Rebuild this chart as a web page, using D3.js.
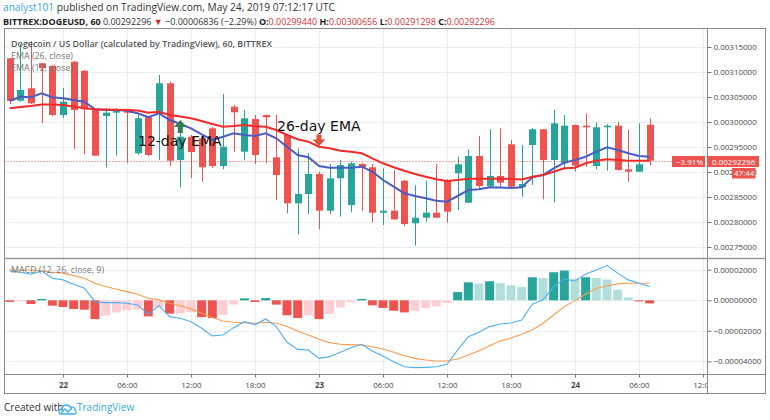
<!DOCTYPE html>
<html><head><meta charset="utf-8">
<script src="https://cdn.jsdelivr.net/npm/d3@7/dist/d3.min.js"></script>
<style>
body{margin:0;background:#fff;}
svg{display:block;font-family:"Open Sans","Noto Sans",sans-serif;}
</style></head><body>
<svg id="c" width="770" height="420"></svg>
<script>
// ---------- DATA ----------
const firstCandle = "2019-05-21T19:00:00Z";   // hourly candles
const opens = [0.0031274,0.0030426,0.0030674,0.0031174,0.003112,0.003014,0.0031206,0.0031026,0.003026,0.003012,
0.0030186,0.0030254,0.0029374,0.0030094,0.003016,0.0030774,0.002924,0.0029706,0.0029674,0.0029874,
0.002912,0.0030306,0.0029406,0.003006,0.003014,0.0029294,0.002974,0.0028374,0.002856,0.002896,
0.0028226,0.0028874,0.002834,0.002916,0.0029094,0.0028186,0.0028226,0.0028826,0.0027974,0.0028086,
0.0028186,0.002884,0.0028974,0.0028386,0.002932,0.002872,0.002892,0.0029554,0.0028694,0.002954,
0.0029854,0.002924,0.0029174,0.002994,0.0029926,0.002912,0.0029894,0.0029926,0.0029054,0.0029006,0.0029944];
const highs = [0.003128,0.003156,0.003162,0.003118,0.003114,0.003068,0.003122,0.003104,0.003027,0.003028,
0.0030274,0.003026,0.003014,0.00301,0.003094,0.0030806,0.002978,0.002974,0.00297,0.00299,
0.003056,0.003034,0.003024,0.003014,0.003015,0.003014,0.002976,0.0029474,0.0029374,0.0029006,
0.002916,0.002924,0.0029206,0.002918,0.002916,0.0029074,0.002904,0.002884,0.002874,0.0028826,
0.002916,0.002886,0.0029306,0.0029454,0.002972,0.0029854,0.0029874,0.002964,0.002954,0.002988,
0.002986,0.003024,0.003014,0.002995,0.0030174,0.0029986,0.002996,0.0030006,0.0029854,0.0029974,0.00300656];
const lows = [0.003036,0.0030406,0.003036,0.002998,0.003012,0.003008,0.0029454,0.002936,0.002932,0.0029094,
0.0029326,0.0029174,0.002934,0.002932,0.002924,0.002912,0.0028694,0.002888,0.0028806,0.002908,
0.0029054,0.0029406,0.002924,0.002916,0.0029174,0.002844,0.0028174,0.0027754,0.002816,0.0027854,
0.002816,0.0028106,0.0028194,0.0028226,0.0027986,0.002794,0.002804,0.002792,0.0027526,0.0028006,
0.002808,0.0027986,0.002824,0.002838,0.0028674,0.00287,0.0028706,0.00287,0.0028506,0.002874,
0.0028454,0.0028394,0.002904,0.0029006,0.0029106,0.0029054,0.0029026,0.0029026,0.0028806,0.0029,0.00291298];
const closes = [0.003042,0.003064,0.0030374,0.0031074,0.003014,0.0030406,0.003024,0.0030254,0.0029326,0.0030186,
0.0030254,0.0030186,0.0030074,0.002934,0.0030774,0.0029226,0.0029706,0.00294,0.0029094,0.002912,
0.0029506,0.0030194,0.0030074,0.002934,0.0030094,0.002894,0.0028374,0.002856,0.002896,0.0028226,
0.0028874,0.002914,0.0029174,0.0029094,0.0028186,0.0028226,0.0028054,0.002796,0.0028086,0.0028186,
0.0028086,0.0028206,0.0029154,0.002932,0.002872,0.002892,0.0028786,0.0028706,0.002876,0.0029854,
0.002924,0.0029974,0.0029926,0.0029126,0.0029894,0.0029894,0.0029926,0.002904,0.0029006,0.0029154,0.00292296];
const ema26 = [0.0030274,0.00303,0.003032,0.003035,0.003035,0.003034,0.003031,0.0030274,0.0030254,0.003025,
0.0030246,0.003024,0.003023,0.0030186,0.0030206,0.003014,0.003011,0.0030074,0.003002,0.002996,
0.0029906,0.002992,0.002994,0.0029914,0.0029906,0.002984,0.002974,0.0029654,0.0029606,0.0029506,
0.0029474,0.0029426,0.0029406,0.0029374,0.0029274,0.0029174,0.0029094,0.0029026,0.002896,0.0028906,
0.0028854,0.002882,0.002884,0.0028864,0.0028864,0.0028864,0.002887,0.002886,0.002885,0.0028906,
0.002894,0.0029006,0.0029074,0.0029086,0.0029174,0.0029226,0.0029254,0.002924,0.0029226,0.0029226,0.0029226];
const ema12 = [0.003042,0.0030506,0.0030494,0.0030574,0.0030494,0.0030474,0.003044,0.0030406,0.0030254,0.003024,
0.003024,0.0030226,0.0030174,0.0030094,0.0030174,0.003004,0.002996,0.0029874,0.0029754,0.002964,
0.0029706,0.0029774,0.002974,0.002972,0.0029774,0.0029674,0.0029506,0.002934,0.0029294,0.002912,
0.0029086,0.0029086,0.0029086,0.0029106,0.0029006,0.002884,0.0028706,0.0028574,0.002852,0.0028474,
0.0028426,0.0028406,0.002852,0.002864,0.0028654,0.0028694,0.002869,0.002868,0.0028694,0.0028894,
0.002894,0.0029074,0.0029186,0.002924,0.0029306,0.0029406,0.0029494,0.002944,0.0029374,0.002932,0.0029306];
// MACD pane values in units of 1e-5
const macdLine = [1.93,1.84,1.71,1.93,1.45,1.34,1.06,0.79,-0.09,-0.15,
-0.15,-0.19,-0.30,-0.91,-0.35,-1.07,-1.17,-1.40,-1.83,-2.33,
-2.27,-1.79,-1.40,-1.59,-1.22,-1.72,-2.75,-3.21,-3.25,-3.80,
-3.69,-3.40,-3.10,-2.88,-3.32,-3.65,-4.02,-4.35,-4.41,-4.39,
-4.35,-4.19,-3.25,-2.38,-2.09,-1.72,-1.55,-1.48,-1.29,-0.26,
0.03,0.90,1.40,1.27,1.73,1.99,2.28,1.78,1.34,1.12,0.90];
const signalLine = [1.99,1.99,1.99,1.93,1.84,1.78,1.62,1.45,1.12,0.90,
0.73,0.57,0.40,0.14,0.03,-0.19,-0.35,-0.56,-0.85,-1.13,
-1.35,-1.44,-1.46,-1.50,-1.44,-1.50,-1.72,-2.01,-2.27,-2.55,
-2.77,-2.88,-2.92,-2.92,-3.04,-3.19,-3.40,-3.63,-3.80,-3.91,
-3.97,-3.97,-3.84,-3.58,-3.30,-2.97,-2.66,-2.47,-2.22,-1.94,
-1.50,-0.96,-0.41,-0.02,0.40,0.79,0.96,1.08,1.12,1.12,1.12];
const histogram = [-0.10,-0.03,-0.24,0.09,-0.35,-0.44,-0.57,-0.61,-1.23,-1.00,
-0.79,-0.66,-0.61,-1.05,-0.46,-0.87,-0.85,-0.77,-1.10,-1.16,
-0.94,-0.28,0.13,-0.11,0.15,-0.28,-0.98,-1.16,-0.98,-1.23,
-0.90,-0.46,-0.13,0.09,-0.33,-0.50,-0.68,-0.79,-0.68,-0.50,
-0.39,-0.18,0.54,1.18,1.10,1.25,1.13,0.98,0.87,1.51,
1.46,1.84,1.95,1.42,1.51,1.46,1.36,0.70,0.20,-0.07,-0.20];
const priceTicks = [0.00275,0.0028,0.00285,0.0029,0.00295,0.003,0.00305,0.0031,0.00315];
const macdTicks = [-4,-2,0,2];
const timeTickValues = ["2019-05-22T00:00:00Z","2019-05-22T06:00:00Z","2019-05-22T12:00:00Z","2019-05-22T18:00:00Z",
"2019-05-23T00:00:00Z","2019-05-23T06:00:00Z","2019-05-23T12:00:00Z","2019-05-23T18:00:00Z",
"2019-05-24T00:00:00Z","2019-05-24T06:00:00Z","2019-05-24T12:00:00Z"];
const timeTickLabels = ["22","06:00","12:00","18:00","23","06:00","12:00","18:00","24","06:00","12:00"];
const lastPrice = 0.00292296;
const annotations = [
  {label:"12-day EMA", arrowIdx:16, arrowPrice:0.003004, dir:"up", textIdx:12.03, textPrice:0.002952},
  {label:"26-day EMA", arrowIdx:29, arrowPrice:0.002975, dir:"down", textIdx:25.06, textPrice:0.002982}
];

// ---------- SETUP ----------
const svg = d3.select("#c");
const L = 4.5, R = 765.5, AX = 707.5, TOP = 28.5, SEP = 258.5, XB = 374.5, BOT = 393.5;
const t0 = new Date(firstCandle);
const times = opens.map((d,i)=>d3.utcHour.offset(t0,i));
const x = d3.scaleUtc().domain([new Date("2019-05-21T18:00:00Z"), new Date("2019-05-24T12:00:00Z")]).range([-1,703]);
const xi = i => x(d3.utcHour.offset(t0,0)) + i*(x(times[1])-x(times[0]));
const yP = d3.scaleLinear().domain([0.00275,0.00315]).range([247,47]);
const yM = d3.scaleLinear().domain([-4,2]).range([361.4,269.8]);
const up="#26A69A", dn="#EF5350", grid="#E9EEF3";

const defs = svg.append("defs");
defs.append("clipPath").attr("id","cp1").append("rect").attr("x",5).attr("y",29).attr("width",702).attr("height",229);
defs.append("clipPath").attr("id","cp2").append("rect").attr("x",5).attr("y",259).attr("width",702).attr("height",115);
defs.append("clipPath").attr("id","cpx").append("rect").attr("x",5).attr("y",374).attr("width",702).attr("height",20);

// header
const h1 = svg.append("text").attr("x",3).attr("y",11).attr("font-size",10).attr("fill","#333")
  .attr("textLength",332).attr("lengthAdjust","spacingAndGlyphs");
h1.append("tspan").attr("fill","#3AA3E3").text("analyst101");
h1.append("tspan").text(" published on TradingView.com, May 24, 2019 07:12:17 UTC");
const h2 = svg.append("text").attr("x",3).attr("y",25).attr("font-size",9).attr("fill","#333")
  .attr("textLength",492).attr("lengthAdjust","spacingAndGlyphs");
const red2="#D32F2F";
[["BITTREX:DOGEUSD, 60 ","#222",700],["0.00292296 ","#333",400],["\u25BC","#C62828",400],[" \u22120.00006836 (\u22122.29%) ","#333",400],
 ["O:","#222",700],["0.00299440 ",red2,400],["H:","#222",700],["0.00300656 ",red2,400],["L:","#222",700],["0.00291298 ",red2,400],
 ["C:","#222",700],["0.00292296",red2,400]].forEach(([t,c,w])=>h2.append("tspan").attr("fill",c).attr("font-weight",w).text(t));

// grid
const gg = svg.append("g");
timeTickValues.forEach(v=>{
  const xv = Math.round(x(new Date(v)))+0.5;
  if (xv>5 && xv<707) gg.append("line").attr("x1",xv).attr("x2",xv).attr("y1",TOP).attr("y2",XB).attr("stroke",grid);
});
priceTicks.forEach(v=>{const yv=Math.round(yP(v))+0.5; gg.append("line").attr("x1",L).attr("x2",AX).attr("y1",yv).attr("y2",yv).attr("stroke",grid);});
macdTicks.forEach(v=>{const yv=Math.round(yM(v))+0.5; gg.append("line").attr("x1",L).attr("x2",AX).attr("y1",yv).attr("y2",yv).attr("stroke",grid);});

// candles
const cg = svg.append("g").attr("clip-path","url(#cp1)");
opens.forEach((o,i)=>{
  const c = closes[i], col = c>=o?up:dn;
  const cx = Math.round(x(times[i]));
  cg.append("line").attr("x1",cx+0.5).attr("x2",cx+0.5).attr("y1",yP(highs[i])).attr("y2",yP(lows[i])).attr("stroke",col).attr("stroke-width",1);
  const yt = yP(Math.max(o,c)), yb = yP(Math.min(o,c));
  cg.append("rect").attr("x",cx-3).attr("width",7).attr("y",yt).attr("height",Math.max(1.2,yb-yt)).attr("fill",col);
});
// EMA lines
const lineP = d3.line().x((d,i)=>x(times[i])).y(d=>yP(d));
cg.append("path").attr("d",lineP(ema12)).attr("fill","none").attr("stroke","#4A5CC4").attr("stroke-width",2);
cg.append("path").attr("d",lineP(ema26)).attr("fill","none").attr("stroke","#F22A2A").attr("stroke-width",2);
// last price line
const ly = Math.round(yP(lastPrice))+0.5;
svg.append("line").attr("x1",L).attr("x2",AX).attr("y1",ly).attr("y2",ly).attr("stroke",dn).attr("stroke-dasharray","1,2");

// legends
svg.append("text").attr("x",11).attr("y",47).attr("font-size",9).attr("font-weight",600).attr("fill","#555")
  .attr("textLength",261).attr("lengthAdjust","spacingAndGlyphs").text("Dogecoin / US Dollar (calculated by TradingView), 60, BITTREX");
svg.append("text").attr("x",11).attr("y",58.5).attr("font-size",9).attr("fill","#777").attr("textLength",62).attr("lengthAdjust","spacingAndGlyphs").text("EMA (26, close)");
svg.append("text").attr("x",11).attr("y",70.5).attr("font-size",9).attr("fill","#777").attr("textLength",62).attr("lengthAdjust","spacingAndGlyphs").text("EMA (12, close)");

// annotations
annotations.forEach(a=>{
  const ax = xi(a.arrowIdx), ay = yP(a.arrowPrice);
  const col = a.dir==="up" ? "#2F7F52" : "#D9533C";
  let p;
  if (a.dir==="up") p = `M${ax},${ay} L${ax+6.5},${ay+7} L${ax+2.5},${ay+7} L${ax+2.5},${ay+13} L${ax-2.5},${ay+13} L${ax-2.5},${ay+7} L${ax-6.5},${ay+7} Z`;
  else p = `M${ax-2.5},${ay} L${ax+2.5},${ay} L${ax+2.5},${ay+5} L${ax+6.5},${ay+5} L${ax},${ay+11.5} L${ax-6.5},${ay+5} L${ax-2.5},${ay+5} Z`;
  svg.append("path").attr("d",p).attr("fill",col);
  svg.append("text").attr("x",xi(a.textIdx)).attr("y",yP(a.textPrice)).attr("font-family","DejaVu Sans").attr("font-size",14).attr("fill","#111").text(a.label);
});

// MACD pane
const mg = svg.append("g").attr("clip-path","url(#cp2)");
histogram.forEach((h,i)=>{
  const prev = i>0?histogram[i-1]:0;
  const col = h>=0 ? (prev<h?"#26A69A":"#B2DFDB") : (prev<h?"#FFCDD2":"#EF5350");
  const cx = x(times[i]);
  const y0 = yM(0), y1 = yM(h);
  mg.append("rect").attr("x",cx-4.5).attr("width",9).attr("y",Math.min(y0,y1)).attr("height",Math.max(1,Math.abs(y1-y0))).attr("fill",col);
});
const lineM = d3.line().x((d,i)=>x(times[i])).y(d=>yM(d));
mg.append("path").attr("d",lineM(signalLine)).attr("fill","none").attr("stroke","#FF9A4D").attr("stroke-width",1.1);
mg.append("path").attr("d",lineM(macdLine)).attr("fill","none").attr("stroke","#4DB0F5").attr("stroke-width",1.1);
svg.append("text").attr("x",11).attr("y",273).attr("font-size",9).attr("fill","#777").attr("textLength",93).attr("lengthAdjust","spacingAndGlyphs").text("MACD (12, 26, close, 9)");

// frame
const fr = svg.append("g").attr("stroke","#8a8a8a").attr("fill","none");
fr.append("rect").attr("x",L).attr("y",TOP).attr("width",R-L).attr("height",BOT-TOP);
fr.append("line").attr("x1",AX).attr("x2",AX).attr("y1",TOP).attr("y2",BOT);
fr.append("line").attr("x1",L).attr("x2",R).attr("y1",SEP).attr("y2",SEP).attr("stroke","#999").attr("stroke-width",1.5);
fr.append("line").attr("x1",L).attr("x2",R).attr("y1",XB).attr("y2",XB);

// axes
function styleAxis(g){
  g.select(".domain").remove();
  g.selectAll(".tick line").attr("stroke","#777");
  g.selectAll(".tick text").attr("font-size",8).attr("fill","#4a4a4a").attr("font-family","'Open Sans',sans-serif");
}
const ayP = svg.append("g").attr("transform",`translate(${AX},0)`)
  .call(d3.axisRight(yP).tickValues(priceTicks).tickSize(4).tickPadding(2).tickFormat(d=>d.toFixed(8)));
styleAxis(ayP);
const ayM = svg.append("g").attr("transform",`translate(${AX},0)`)
  .call(d3.axisRight(yM).tickValues(macdTicks).tickSize(4).tickPadding(2).tickFormat(d=>(d<0?"\u2212":"")+Math.abs(d*1e-5).toFixed(8)));
styleAxis(ayM);
const axX = svg.append("g").attr("clip-path","url(#cpx)").append("g").attr("transform",`translate(0,${XB})`)
  .call(d3.axisBottom(x).tickValues(timeTickValues.map(v=>new Date(v))).tickSize(3).tickPadding(5).tickFormat((d,i)=>timeTickLabels[i]));
styleAxis(axX);
axX.selectAll(".tick text").attr("font-weight",(d,i)=>timeTickLabels[i].length<=2?700:400);

// price label boxes
const pb = svg.append("g").attr("font-size",8).attr("fill","#fff");
pb.append("rect").attr("x",707).attr("y",ly-5.5).attr("width",52).attr("height",11).attr("fill",dn);
pb.append("text").attr("x",712).attr("y",ly+3).text(lastPrice.toFixed(8));
pb.append("rect").attr("x",672).attr("y",ly-5.5).attr("width",33).attr("height",11).attr("fill",dn);
pb.append("text").attr("x",676).attr("y",ly+3).text("\u22123.91%");
pb.append("rect").attr("x",732).attr("y",168).attr("width",23.5).attr("height",10.5).attr("fill",dn);
pb.append("text").attr("x",734).attr("y",176.3).text("47:44");

// footer
svg.append("text").attr("x",4).attr("y",411).attr("font-size",10).attr("fill","#333").text("Created with");
const lg = svg.append("g").attr("transform","translate(59,402)");
lg.append("path").attr("d","M2,12 Q0,12 0,9.5 Q0,7 3,7 Q3.5,3 7.5,3 Q10.5,3 11.5,5.5 Q12.5,4.5 14,5 Q16.5,6 16,8.5 Q17.5,9.5 17,11 Q16.5,12 15,12 Z")
  .attr("fill","none").attr("stroke","#3BB0E3").attr("stroke-width",1.3);
lg.append("path").attr("d","M2,11 L6,7 L9,10 L13,6").attr("fill","none").attr("stroke","#3BB0E3").attr("stroke-width",1.3);
svg.append("text").attr("x",77).attr("y",411).attr("font-size",10).attr("fill","#3AA8DF").text("TradingView");
</script>
</body></html>
